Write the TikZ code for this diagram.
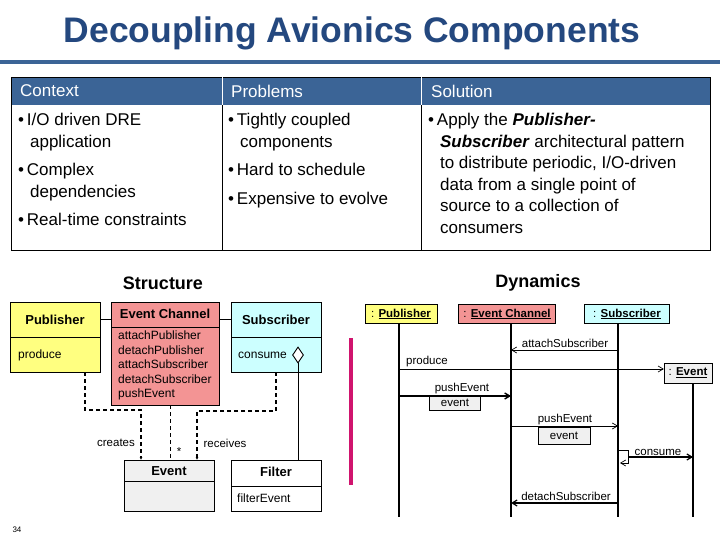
\documentclass[tikz,border=0pt]{standalone}
\usepackage{fontspec}
\setmainfont{Liberation Sans}
\usetikzlibrary{arrows.meta,shapes.geometric}
\definecolor{ttl}{HTML}{24487F}
\definecolor{hdr}{HTML}{3B6496}
\definecolor{yel}{HTML}{FFFF80}
\definecolor{red}{HTML}{F39494}
\definecolor{cya}{HTML}{CCFFFF}
\definecolor{gry}{HTML}{F0F0F0}
\definecolor{mag}{HTML}{D0146E}
\tikzset{
  x=1pt,y=-1pt,
  tt/.style={font=\fontsize{17}{20}\selectfont,anchor=west,inner sep=0},
  cell/.style={font=\fontsize{17}{21.5}\selectfont,anchor=north west,align=left,inner sep=0},
  cls/.style={draw,line width=0.8pt},
  ct/.style={font=\fontsize{13}{15}\selectfont\bfseries,inner sep=0},
  mt/.style={font=\fontsize{12}{14.5}\selectfont,inner sep=0,anchor=west,align=left},
  dep/.style={dashed,line width=1.4pt,dash pattern=on 4pt off 3pt},
  msg/.style={line width=0.7pt,-{Straight Barb[length=5pt,width=6pt]}},
  ml/.style={font=\fontsize{11.5}{13}\selectfont,inner sep=0},
  life/.style={line width=1.2pt},
  sb/.style={draw,inner sep=0,font=\fontsize{11.5}{13}\selectfont},
}
\begin{document}
\begin{tikzpicture}
\useasboundingbox (0,0) rectangle (720,540);
\fill[white] (0,0) rectangle (720,540);
% title
\node[font=\fontsize{35.5}{40}\selectfont\bfseries,text=ttl,inner sep=0] (title) at (352,33) {Decoupling Avionics Components};
\fill[hdr] (0,60) rectangle (720,64);
% table
\fill[hdr] (11,77) rectangle (710,105);
\draw[line width=0.8pt] (11,77) rectangle (710,250);
\draw[line width=0.8pt] (222,105) -- (222,250) (421,105) -- (421,250);
\draw[white,line width=0.8pt] (222,77) -- (222,105) (421,77) -- (421,105);
\node[tt,text=white] (h1) at (20,91) {Context};
\node[tt,text=white] (h2) at (231,91) {Problems};
\node[tt,text=white] (h3) at (431,91) {Solution};
\node[cell] (c1) at (18,113) {\textbullet\,I/O driven DRE\\\hspace*{0.7em}application\\[7pt]\textbullet\,Complex\\\hspace*{0.7em}dependencies\\[7pt]\textbullet\,Real-time constraints};
\node[cell] (c2) at (228,113) {\textbullet\,Tightly coupled\\\hspace*{0.7em}components\\[7pt]\textbullet\,Hard to schedule\\[7pt]\textbullet\,Expensive to evolve};
\node[cell] (c3) at (428,113) {\textbullet\,Apply the \textbf{\textit{Publisher-}}\\\hspace*{0.7em}\textbf{\textit{Subscriber}} architectural pattern\\\hspace*{0.7em}to distribute periodic, I/O-driven\\\hspace*{0.7em}data from a single point of\\\hspace*{0.7em}source to a collection of\\\hspace*{0.7em}consumers};
% headings
\node[font=\fontsize{18}{20}\selectfont\bfseries,inner sep=0] (st) at (163,283) {Structure};
\node[font=\fontsize{18}{20}\selectfont\bfseries,inner sep=0] (dy) at (538,283) {Dynamics};
% structure classes
\draw[cls,fill=yel] (10,302) rectangle (100,372); \draw[line width=0.8pt] (10,337) -- (100,337);
\node[ct] (pub) at (55,320) {Publisher};
\node[mt] (pubm) at (18,355) {produce};
\draw[cls,fill=red] (111,302) rectangle (219,405); \draw[line width=0.8pt] (111,327) -- (219,327);
\node[ct] (ec) at (165,314) {Event Channel};
\node[mt,anchor=north west] (ecm) at (118,331) {attachPublisher\\detachPublisher\\attachSubscriber\\detachSubscriber\\pushEvent};
\draw[cls,fill=cya] (231,302) rectangle (321,372); \draw[line width=0.8pt] (231,337) -- (321,337);
\node[ct] (sub) at (276,320) {Subscriber};
\node[mt] (subm) at (238,355) {consume};
\draw[line width=0.8pt] (100,319) -- (111,319) (219,319) -- (231,319);
\draw[cls,fill=gry] (124,460) rectangle (214,511); \draw[line width=0.8pt] (124,481) -- (214,481);
\node[ct] (ev) at (169,471) {Event};
\draw[cls,fill=white] (231,460) rectangle (321,511); \draw[line width=0.8pt] (231,486) -- (321,486);
\node[ct] (fi) at (276,472) {Filter};
\node[mt] (fim) at (237,498) {filterEvent};
\draw[dep,-{Latex[length=3pt,width=3pt]}] (85,372) -- (85,410) -- (141,410) -- (141,460);
\draw[dep,-{Latex[length=3pt,width=3pt]}] (276,372) -- (276,411) -- (197,411) -- (197,460);
\draw[dashed,line width=0.8pt,dash pattern=on 4pt off 3pt] (170,405) -- (170,460);
\node[ml] (cr) at (116,443) {creates};
\node[ml] (rc) at (225,443) {receives};
\node[ml] (star) at (179,452) {*};
\node[draw,diamond,line width=0.9pt,fill=white,minimum width=11pt,minimum height=16pt,inner sep=0] (dia) at (298,355) {};
\draw[line width=0.8pt] (dia.south) -- (298,460);
\node[font=\fontsize{8}{9}\selectfont,inner sep=0] (pg) at (17,530) {34};
% dynamics
\fill[mag] (349,338) rectangle (353,485);
\draw[life] (399,324) -- (399,517);
\draw[life] (511,324) -- (511,517);
\draw[life] (618,324) -- (618,517);
\draw[life] (693,383) -- (693,517);
\node[sb,fill=yel,minimum width=72pt,minimum height=19pt] (dp) at (401,314) {: \underline{\textbf{Publisher}}};
\node[sb,fill=red,minimum width=97pt,minimum height=19pt] (dec) at (507,314) {: \underline{\textbf{Event Channel}}};
\node[sb,fill=cya,minimum width=85pt,minimum height=19pt] (ds) at (627,314) {: \underline{\textbf{Subscriber}}};
\node[sb,fill=gry,minimum width=48pt,minimum height=20pt] (de) at (688,373) {: \underline{\textbf{Event}}};
\coordinate (a1) at (618,350); \coordinate (a2) at (511,350);
\draw[msg] (a1) -- (a2); \node[ml,anchor=south] (l1) at (565,348) {attachSubscriber};
\coordinate (p1) at (399,369);
\draw[msg] (p1) -- (de.west|-p1); \node[ml,anchor=south west] (l2) at (406,367) {produce};
\coordinate (q1) at (399,396); \coordinate (q2) at (511,396);
\draw[msg,line width=1.4pt] (q1) -- (q2); \node[ml,anchor=south] (l3) at (462,394) {pushEvent};
\node[sb,fill=gry,minimum width=51pt,minimum height=14pt] (e1) at (455,403) {event};
\coordinate (r1) at (511,426); \coordinate (r2) at (618,426);
\draw[msg] (r1) -- (r2); \node[ml,anchor=south] (l4) at (565,425) {pushEvent};
\node[sb,fill=gry,minimum width=52pt,minimum height=17pt] (e2) at (564,436) {event};
\coordinate (s1) at (618,450); \coordinate (s2) at (628,450); \coordinate (s3) at (628,463); \coordinate (s4) at (620,463);
\draw[msg] (s1) -- (s2) -- (s3) -- (s4);
\coordinate (t1) at (628,457); \coordinate (t2) at (693,457);
\draw[msg,line width=1.2pt] (t1) -- (t2); \node[ml,anchor=south] (l5) at (658,456) {consume};
\coordinate (u1) at (618,503); \coordinate (u2) at (511,503);
\draw[msg,line width=1.2pt] (u1) -- (u2); \node[ml,anchor=south] (l6) at (566,501) {detachSubscriber};
\end{tikzpicture}
\end{document}
